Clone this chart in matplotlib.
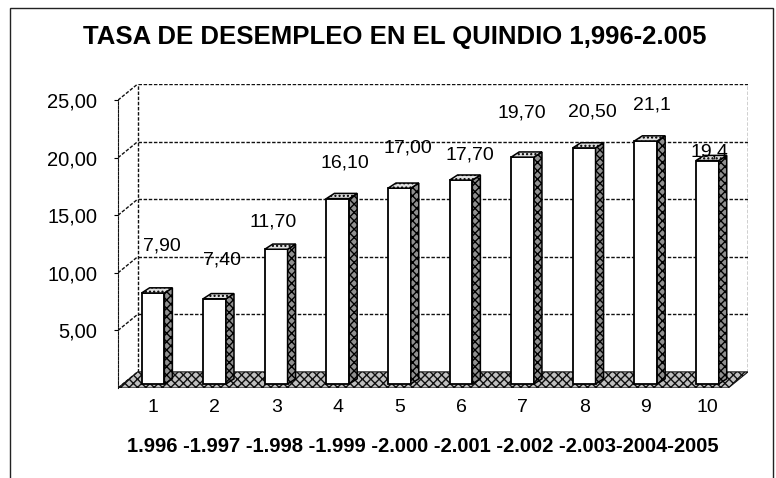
import matplotlib.pyplot as plt
from matplotlib.patches import Polygon, Rectangle

# data
periods = ['1', '2', '3', '4', '5', '6', '7', '8', '9', '10']
rates = [7.90, 7.40, 11.70, 16.10, 17.00, 17.70, 19.70, 20.50, 21.10, 19.40]
rate_labels = ['7,90', '7,40', '11,70', '16,10', '17,00', '17,70', '19,70', '20,50', '21,1', '19,4']
yticks = [5, 10, 15, 20, 25]
year_line = '1.996 -1.997 -1.998 -1.999 -2.000 -2.001 -2.002 -2.003-2004-2005'
title = 'TASA DE DESEMPLEO EN EL QUINDIO 1,996-2.005'

# where excel dropped each value label (offsets from bar top)
label_dx = [0.15, 0.12, -0.05, 0.12, 0.14, 0.15, -0.01, 0.13, 0.10, 0.04]
label_dy = [4.45, 3.73, 2.73, 3.47, 3.87, 2.56, 4.2, 3.5, 3.5, 1.1]

plt.rcParams['font.family'] = ['Liberation Sans', 'DejaVu Sans']

# fake 3d geometry (data units)
x0, xmax = 0.432, 10.66
ddx, ddy = 0.32, 1.4          # wall depth
w = 0.37                      # bar front width
bdx, bdy = 0.13, 0.45         # bar depth
base = 0.25 * ddy             # bars stand a bit behind the front edge

fig = plt.figure(figsize=(7.76, 4.78), dpi=100)
ax = fig.add_axes([118 / 776, 90 / 478, 630 / 776, 304 / 478])
ax.set_xlim(x0, xmax)
ax.set_ylim(0, 25 + ddy)

grid = dict(color='#111111', lw=1.0, ls=(0, (2.5, 1.2)))

# floor
floor = Polygon([(x0, 0), (xmax - ddx, 0), (xmax, ddy), (x0 + ddx, ddy)],
                facecolor='#c0c0c0', edgecolor='#111111', hatch='xxxx', lw=0.8)
ax.add_patch(floor)

# left wall diagonals, back wall grid
for v in [0] + yticks:
    ax.plot([x0, x0 + ddx], [v, v + ddy], **grid)
    if v > 0:
        ax.plot([x0 + ddx, xmax], [v + ddy, v + ddy], **grid)
ax.plot([x0 + ddx, x0 + ddx], [ddy, 25 + ddy], **grid)
ax.plot([xmax, xmax], [ddy, 25 + ddy], **grid)

# bars
pos = list(range(1, len(rates) + 1))
ax.bar(pos, rates, width=w, bottom=base, color='white', edgecolor='black', lw=1.3, zorder=3)
for i, v in zip(pos, rates):
    r = i + w / 2
    l = i - w / 2
    top = base + v
    side = Polygon([(r, base), (r, top), (r + bdx, top + bdy), (r + bdx, base + bdy)],
                   facecolor='#909090', edgecolor='black', hatch='xxxx', lw=1.1, zorder=3)
    cap = Polygon([(l, top), (r, top), (r + bdx, top + bdy), (l + bdx, top + bdy)],
                  facecolor='#e0e0e0', edgecolor='black', hatch='....', lw=1.1, zorder=3)
    ax.add_patch(side)
    ax.add_patch(cap)

for i, v, t, ox, oy in zip(pos, rates, rate_labels, label_dx, label_dy):
    ax.text(i + ox, v + oy, t, ha='center', va='center', fontsize=14, zorder=4)

# axes styling
for s in ['top', 'right', 'bottom']:
    ax.spines[s].set_visible(False)
ax.spines['left'].set_bounds(0, 25)
ax.spines['left'].set_linestyle((0, (2.5, 1.2)))
ax.spines['left'].set_color('#111111')
ax.set_yticks(yticks)
ax.set_yticklabels([f'{v:.2f}'.replace('.', ',') for v in yticks], fontsize=14.5)
ax.tick_params(axis='y', length=3, pad=12)
ax.set_xticks(pos)
ax.set_xticklabels(periods, fontsize=14)
ax.tick_params(axis='x', length=0, pad=8)

fig.text(423 / 776, 1 - 446 / 478, year_line, ha='center', va='center',
         fontsize=14.5, fontweight='bold')
fig.text(395 / 776, 1 - 37 / 478, title, ha='center', va='center',
         fontsize=18.5, fontweight='bold')

# chart frame
fig.add_artist(Rectangle((10 / 776, -0.01), 763 / 776, 1 - 8 / 478 + 0.01,
                         transform=fig.transFigure, fill=False, edgecolor='#222222', lw=1.0))

plt.savefig('out.png', dpi=100)
